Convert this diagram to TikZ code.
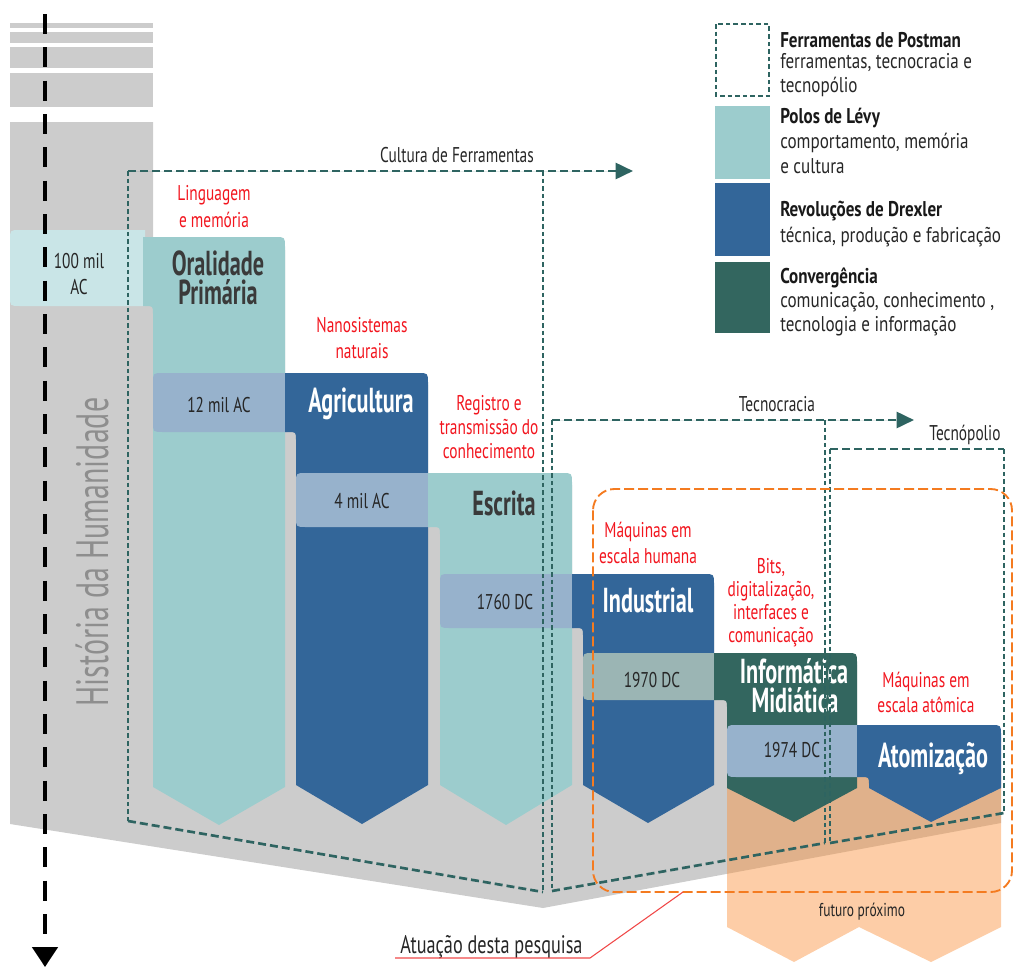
\documentclass[tikz,border=0pt]{standalone}
\usepackage{fontspec}
\setmainfont{PT Sans}[FakeStretch=0.72]
\newfontfamily\titlefont{PT Sans Bold}[FakeStretch=0.64]
\newfontfamily\legendfont{PT Sans}[FakeStretch=0.8]
\newfontfamily\histfont{PT Sans}[FakeStretch=0.66]
\usetikzlibrary{arrows.meta}

\definecolor{histgray}{HTML}{CCCCCC}
\definecolor{levy}{HTML}{9CCCCD}
\definecolor{drexler}{HTML}{336699}
\definecolor{converg}{HTML}{33665F}
\definecolor{bandblue}{HTML}{97B2CC}
\definecolor{bandgreen}{HTML}{9BB5B4}
\definecolor{bandpale}{HTML}{C9E5E7}
\definecolor{postman}{HTML}{2E6461}
\definecolor{redlabel}{HTML}{F2151E}
\definecolor{orangeline}{HTML}{F47B20}
\definecolor{futuro}{HTML}{FA913C}
\definecolor{titledark}{HTML}{3A3A3A}
\definecolor{histtext}{HTML}{8E8E8E}
\definecolor{leader}{HTML}{F04848}

% stage column: #1 colour, #2 upper left x, #3 lower left x, #4 right x,
% #5 top y, #6 bottom of the date band, #7 y where the point starts, #8/#9 tip
\newcommand{\stagecol}[9]{%
  \fill[#1] (#2,#5) -- (#4-10,#5) .. controls (#4,#5) .. (#4,#5+10)
    -- (#4,#7) -- (#8,#9) -- (#3,#7) -- (#3,#6+8) .. controls (#3,#6) .. (#3-8,#6)
    -- (#2,#6) -- cycle;}
% date band with rounded left end: #1 colour, #2 left, #3 right, #4 top, #5 bottom
\newcommand{\dateband}[5]{%
  \fill[#1] (#3+2,#4) -- (#2+10,#4) .. controls (#2,#4) .. (#2,#4+10)
    -- (#2,#5-10) .. controls (#2,#5) .. (#2+10,#5) -- (#3+2,#5) -- cycle;}

\begin{document}
\begin{tikzpicture}[x=0.75pt,y=-0.75pt,
  datetext/.style={font=\fontsize{16}{18}\selectfont, text=black!85, inner sep=0pt, anchor=base},
  titletext/.style={font=\titlefont\fontsize{26}{20}\selectfont, inner sep=0pt, anchor=base},
  redtext/.style={font=\fontsize{16}{18}\selectfont, text=redlabel, inner sep=0pt, anchor=base},
  plaintext/.style={font=\fontsize{16}{18}\selectfont, text=black!85, inner sep=0pt, anchor=base},
  legendhead/.style={font=\legendfont\bfseries\fontsize{16}{18}\selectfont, text=black!90, anchor=base west, inner sep=0pt},
  legendline/.style={font=\legendfont\fontsize{16}{18}\selectfont, text=black!85, anchor=base west, inner sep=0pt},
  postmanH/.style={draw=postman, line width=2pt, dash pattern=on 6pt off 3pt},
  postmanV/.style={draw=postman, line width=2pt, dash pattern=on 3.5pt off 2.2pt},
  postmanTip/.style={-{Triangle[length=13pt,width=12pt]}},
  research/.style={draw=orangeline, line width=1.4pt, dash pattern=on 7.5pt off 3pt, rounded corners=16pt},
]
\useasboundingbox (0,0) rectangle (1014,967);

% --- history column and its shadow under the stages
\fill[histgray] (10,23) rectangle (153,28);
\fill[histgray] (10,32) rectangle (153,43);
\fill[histgray] (10,47) rectangle (153,68);
\fill[histgray] (10,73) rectangle (153,107);
\fill[histgray] (10,122) -- (153,122) -- (153,250) -- (285,250) -- (285,385)
  -- (428,385) -- (428,485) -- (572,485) -- (572,586) -- (714,586) -- (714,665)
  -- (857,665) -- (857,737) -- (1001,737) -- (1001,823) -- (543,908) -- (10,824) -- cycle;

% --- near future
\fill[futuro, fill opacity=0.45] (727,770) -- (1001,770) -- (1001,927) -- (931,962)
  -- (859,927) -- (794,962) -- (727,927) -- cycle;

% --- stages with their date bands
\dateband{bandpale}{10}{143}{230}{306}
\stagecol{levy}{143}{153}{285}{237}{306}{787}{219}{825}
\dateband{bandblue}{153}{285}{373}{432}
\stagecol{drexler}{285}{296}{428}{373}{432}{785}{362}{824}
\dateband{bandblue}{296}{428}{473}{527}
\stagecol{levy}{428}{440}{572}{473}{527}{785}{506}{825}
\dateband{bandblue}{440}{572}{574}{628}
\stagecol{drexler}{572}{583}{714}{574}{628}{785}{648}{823}
\dateband{bandgreen}{583}{714}{653}{700}
\stagecol{converg}{714}{727}{857}{653}{700}{788}{794}{822}
\dateband{bandblue}{727}{857}{725}{777}
\stagecol{drexler}{857}{869}{1001}{725}{777}{788}{931}{822}

% --- texts on the stages
\node[rotate=90, anchor=base, inner sep=0pt, text=histtext, font=\histfont\fontsize{34}{36}\selectfont] (hist) at (108,552) {História da Humanidade};

\node[datetext] (d100a) at (79,268) {100 mil};
\node[datetext] (d100b) at (79,294) {AC};
\node[titletext, text=titledark] (oral1) at (218,275) {Oralidade};
\node[titletext, text=titledark] (oral2) at (218,304) {Primária};
\node[redtext] (r1a) at (214,200) {Linguagem};
\node[redtext] (r1b) at (214,227) {e memória};

\node[redtext] (r2a) at (362,332) {Nanosistemas};
\node[redtext] (r2b) at (362,358) {naturais};
\node[datetext] (d12) at (219,412) {12 mil AC};
\node[titletext, text=white] (agri) at (361,412) {Agricultura};

\node[redtext] (r3a) at (489,410) {Registro e};
\node[redtext] (r3b) at (489,434) {transmissão do};
\node[redtext] (r3c) at (489,458) {conhecimento};
\node[datetext] (d4) at (362,508) {4 mil AC};
\node[titletext, text=titledark] (escr) at (504,515) {Escrita};

\node[redtext] (r4a) at (648,537) {Máquinas em};
\node[redtext] (r4b) at (648,563) {escala humana};
\node[datetext] (d1760) at (505,609) {1760 DC};
\node[titletext, text=white] (indu) at (648,612) {Industrial};

\node[redtext] (r5a) at (771,573) {Bits,};
\node[redtext] (r5b) at (771,596) {digitalização,};
\node[redtext] (r5c) at (771,619) {interfaces e};
\node[redtext] (r5d) at (771,642) {comunicação};
\node[datetext] (d1970) at (652,687) {1970 DC};
\node[titletext, text=white] (info1) at (794,683) {Informática};
\node[titletext, text=white] (info2) at (795,712) {Midiática};

\node[redtext] (r6a) at (926,687) {Máquinas em};
\node[redtext] (r6b) at (926,712) {escala atômica};
\node[datetext] (d1974) at (792,757) {1974 DC};
\node[titletext, text=white] (atom) at (933,767) {Atomização};

\node[plaintext, font=\fontsize{14}{16}\selectfont] (fut) at (862,916) {futuro próximo};

% --- legend
\fill[levy] (715,106) rectangle (770,179);
\fill[drexler] (715,183) rectangle (770,256);
\fill[converg] (715,262) rectangle (770,333);
\draw[draw=postman, line width=2pt, dash pattern=on 3.5pt off 2.2pt] (716,24) rectangle (769,96);
\node[legendhead] (lg1a) at (780,47) {Ferramentas de Postman};
\node[legendline] (lg1b) at (780,68) {ferramentas, tecnocracia e};
\node[legendline] (lg1c) at (780,92) {tecnopólio};
\node[legendhead] (lg2a) at (780,123) {Polos de Lévy};
\node[legendline] (lg2b) at (780,148) {comportamento, memória};
\node[legendline] (lg2c) at (780,173) {e cultura};
\node[legendhead] (lg3a) at (780,216) {Revoluções de Drexler};
\node[legendline] (lg3b) at (780,242) {técnica, produção e fabricação};
\node[legendhead] (lg4a) at (780,283) {Convergência};
\node[legendline] (lg4b) at (780,307) {comunicação, conhecimento ,};
\node[legendline] (lg4c) at (780,331) {tecnologia e informação};

% --- Postman's three cultures
\node[plaintext] (cult) at (457,162) {Cultura de Ferramentas};
\node[plaintext] (tecr) at (777,411) {Tecnocracia};
\node[plaintext] (tecp) at (965,440) {Tecnópolio};

\coordinate (cfTL) at (128,171);
\coordinate (cfBL) at (128,821);
\coordinate (cfTR) at (543,171);
\coordinate (cfBR) at (543,892);
\coordinate (cfEnd) at (633,171);
\coordinate (tcTL) at (552,420);
\coordinate (tcBL) at (552,891);
\coordinate (tcTR) at (825,420);
\coordinate (tcBR) at (825,843);
\coordinate (tcEnd) at (914,420);
\coordinate (tpTL) at (830,449);
\coordinate (tpBL) at (830,843);
\coordinate (tpTR) at (1004,449);
\coordinate (tpBR) at (1004,813);

\draw[postmanH, postmanTip, fill=postman] (cfTL) -- (cfEnd);
\draw[postmanV] (cfTL) -- (cfBL);
\draw[postmanH] (cfBL) -- (cfBR);
\draw[postmanV] (cfTR) -- (cfBR);

\draw[postmanH, postmanTip, fill=postman] (tcTL) -- (tcEnd);
\draw[postmanV] (tcTL) -- (tcBL);
\draw[postmanH] (tcBL) -- (tcBR);
\draw[postmanV] (tcTR) -- (tcBR);

\draw[postmanH] (tpTL) -- (tpTR);
\draw[postmanV] (tpTL) -- (tpBL);
\draw[postmanH] (tpBL) -- (tpBR);
\draw[postmanV] (tpTR) -- (tpBR);

% --- scope of this research
\coordinate (rsTL) at (593,489);
\coordinate (rsBR) at (1012,892);
\draw[research] (rsTL) rectangle (rsBR);
\node[plaintext, anchor=base west, font=\fontsize{19}{21}\selectfont] (atua) at (400,953) {Atuação desta pesquisa};
\coordinate (ulStart) at (395,958);
\coordinate (ulBend) at (590,958);
\coordinate (leadEnd) at (683,892);
\draw[leader, line width=0.8pt] (ulStart) -- (ulBend) -- (leadEnd);

% --- time axis
\coordinate (timeTop) at (45,14);
\coordinate (timeEnd) at (45,967);
\draw[line width=3pt, dash pattern=on 15pt off 10pt, -{Triangle[length=15pt,width=19pt]}] (timeTop) -- (timeEnd);
\end{tikzpicture}
\end{document}
